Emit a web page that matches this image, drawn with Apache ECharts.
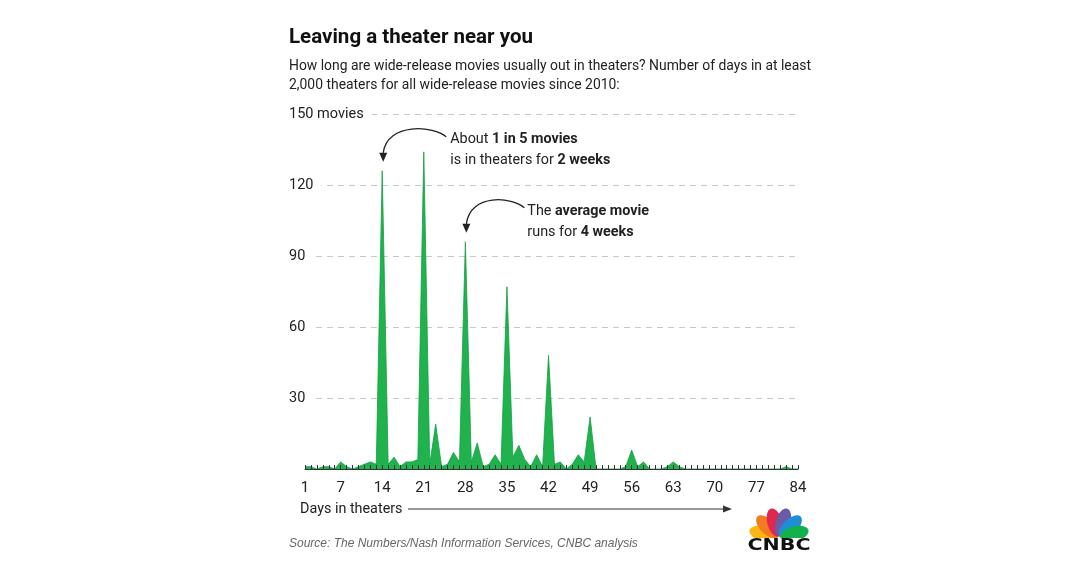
<!DOCTYPE html>
<html>
<head>
<meta charset="utf-8">
<script src="https://cdn.jsdelivr.net/npm/echarts@6/dist/echarts.min.js"></script>
<style>
  html, body { margin: 0; padding: 0; background: #fff; }
</style>
</head>
<body>
	<div id="main" style="width: 1080px; height: 566px;"></div>
	<script type="text/javascript">
		// days in at least 2,000 theaters, 1..84
		var days = [];
		for (var d = 1; d <= 84; d++) days.push(String(d));

		// number of movies per day count
		var movies = [
			1, 1, 0, 1, 1, 0, 3, 1, 0, 1, 2, 3, 2, 126,
			2, 5, 1, 3, 3, 4, 134, 2, 19, 1, 2, 7, 3, 96,
			3, 11, 1, 2, 6, 2, 77, 5, 10, 4, 1, 6, 1, 48,
			2, 3, 0, 2, 6, 3, 22, 0, 0, 0, 0, 0, 1, 8,
			1, 3, 0, 0, 0, 1, 3, 1, 0, 0, 0, 0, 0, 0,
			0, 0, 0, 0, 0, 0, 0, 0, 0, 0, 0, 1, 0, 0
		];

		var yTicks = [0, 30, 60, 90, 120, 150];

		var FONT = "Roboto, 'Noto Sans', sans-serif";
		var TEXT = '#222';

		// no narrow font installed: squeeze the text horizontally instead
		var ctx = document.createElement('canvas').getContext('2d');
		function fitX(text, font, target) {
			ctx.font = font;
			return target / ctx.measureText(text).width;
		}
		var TITLE = 'Leaving a theater near you';
		var SUB1 = 'How long are wide-release movies usually out in theaters? Number of days in at least';
		var sTitle = fitX(TITLE, 'bold 21px Roboto', 244);
		var sNorm = fitX(SUB1, '15px Roboto', 522);

		var myChart = echarts.init(document.getElementById('main'));

		var option = {
			backgroundColor: '#fff',
			animation: false,
			grid: { left: 305, right: 282, top: 114, bottom: 97 },
			xAxis: {
				type: 'category',
				data: days,
				boundaryGap: false,
				z: 5,
				axisLine: { lineStyle: { color: '#333', width: 1.2 } },
				axisTick: { inside: true, length: 4, interval: 0, lineStyle: { color: '#333' } },
				axisLabel: {
					interval: function (i, v) { var n = +v; return n === 1 || n % 7 === 0; },
					color: TEXT, fontSize: 15, fontFamily: FONT, margin: 12
				}
			},
			yAxis: {
				type: 'value',
				min: yTicks[0],
				max: yTicks[yTicks.length - 1],
				interval: 30,
				axisLine: { show: false },
				axisTick: { show: false },
				splitLine: { lineStyle: { color: '#c8c8c8', type: [6, 5], width: 1 } },
				axisLabel: {
					align: 'left',
					margin: 16,
					color: TEXT, fontSize: 14.5, fontFamily: FONT,
					backgroundColor: '#fff',
					padding: [2, 8, 2, 0],
					formatter: function (v) {
						if (v === 0) return '';
						if (v === 150) return v + ' movies';
						return String(v);
					}
				}
			},
			series: [{
				type: 'line',
				data: movies,
				symbol: 'none',
				lineStyle: { color: '#13a043', width: 0.8 },
				areaStyle: { color: '#1fb24d', opacity: 1 }
			}]
		};

		myChart.setOption(option);

		// annotation anchors from the data peaks
		var p14 = myChart.convertToPixel({ gridIndex: 0 }, [13, movies[13]]);
		var p28 = myChart.convertToPixel({ gridIndex: 0 }, [27, movies[27]]);

		function curvedArrow(p, dx0) {
			return [{
				type: 'bezierCurve',
				shape: {
					x1: p[0] + dx0, y1: p[1] - 34,
					cpx1: p[0] + dx0 - 12, cpy1: p[1] - 45,
					cpx2: p[0] + 5, cpy2: p[1] - 49,
					x2: p[0] + 1, y2: p[1] - 18
				},
				style: { stroke: '#222', lineWidth: 1.3, fill: null }
			}, {
				type: 'polygon',
				shape: { points: [[p[0] + 1, p[1] - 9], [p[0] - 3, p[1] - 18], [p[0] + 5, p[1] - 18]] },
				style: { fill: '#222' }
			}];
		}

		function note(x, y, rich1, rich2) {
			var richStyle = {
				n: { fontSize: 15.5, fontFamily: FONT, fill: TEXT },
				b: { fontSize: 15.5, fontFamily: FONT, fill: TEXT, fontWeight: 'bold' }
			};
			return [{
				type: 'text', x: x, y: y, scaleX: sNorm,
				style: { text: rich1, rich: richStyle, verticalAlign: 'middle', align: 'left' }
			}, {
				type: 'text', x: x, y: y + 21, scaleX: sNorm,
				style: { text: rich2, rich: richStyle, verticalAlign: 'middle', align: 'left' }
			}];
		}

		// CNBC peacock
		var featherColors = ['#fcb514', '#f47a20', '#e2264d', '#6d5aa6', '#1c8fd6', '#13b04b'];
		var logo = [];
		var lx = 779, ly = 538;
		for (var i = 0; i < featherColors.length; i++) {
			var ang = (165 - i * 30) * Math.PI / 180;
			logo.push({
				type: 'ellipse',
				x: lx + Math.cos(ang) * 16,
				y: ly - Math.sin(ang) * 16,
				rotation: ang,
				shape: { cx: 0, cy: 0, rx: 14.5, ry: 7.5 },
				style: { fill: featherColors[i] }
			});
		}
		logo.push({
			type: 'rect',
			shape: { x: 746, y: 538, width: 66, height: 16 },
			style: { fill: '#fff' }
		});
		var sLogo = fitX('CNBC', '900 16px "DejaVu Sans"', 63);
		logo.push({
			type: 'text', x: 779, y: 546, scaleX: sLogo,
			style: {
				text: 'CNBC', fill: '#111', fontSize: 16, fontWeight: 900,
				fontFamily: "'DejaVu Sans', sans-serif", align: 'center', verticalAlign: 'middle'
			}
		});

		var graphics = [
			{
				type: 'text', x: 289, y: 38, scaleX: sTitle,
				style: { text: TITLE, fill: '#111', fontSize: 21, fontWeight: 'bold', fontFamily: FONT, verticalAlign: 'middle' }
			},
			{
				type: 'text', x: 289, y: 66, scaleX: sNorm,
				style: { text: SUB1, fill: TEXT, fontSize: 15, fontFamily: FONT, verticalAlign: 'middle' }
			},
			{
				type: 'text', x: 289, y: 85, scaleX: sNorm,
				style: { text: '2,000 theaters for all wide-release movies since 2010:', fill: TEXT, fontSize: 15, fontFamily: FONT, verticalAlign: 'middle' }
			},
			{
				type: 'text', x: 300, y: 509, scaleX: sNorm,
				style: { text: 'Days in theaters', fill: TEXT, fontSize: 15.5, fontFamily: FONT, verticalAlign: 'middle' }
			},
			{
				type: 'line',
				shape: { x1: 408, y1: 509, x2: 724, y2: 509 },
				style: { stroke: '#333', lineWidth: 1.2 }
			},
			{
				type: 'polygon',
				shape: { points: [[732, 509], [723, 505.5], [723, 512.5]] },
				style: { fill: '#333' }
			},
			{
				type: 'text', x: 289, y: 544,
				style: { text: 'Source: The Numbers/Nash Information Services, CNBC analysis', fill: '#666', fontSize: 12, fontStyle: 'italic', fontFamily: "'Liberation Sans', Arial, sans-serif", verticalAlign: 'middle' }
			}
		]
			.concat(curvedArrow(p14, 64))
			.concat(note(p14[0] + 68, p14[1] - 32, '{n|About }{b|1 in 5 movies}', '{n|is in theaters for }{b|2 weeks}'))
			.concat(curvedArrow(p28, 59))
			.concat(note(p28[0] + 62, p28[1] - 31, '{n|The }{b|average movie}', '{n|runs for }{b|4 weeks}'))
			.concat(logo);

		myChart.setOption({ graphic: graphics });
	</script>
</body>
</html>
